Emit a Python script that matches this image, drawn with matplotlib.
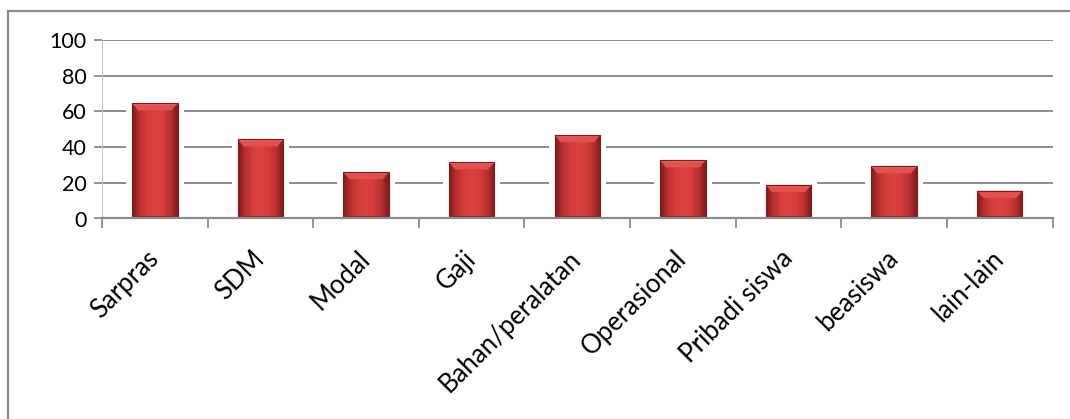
import numpy as np
import matplotlib
matplotlib.use("Agg")
import matplotlib.pyplot as plt
from matplotlib.patches import Rectangle, Polygon
from matplotlib.colors import LinearSegmentedColormap

categories = ["Sarpras", "SDM", "Modal", "Gaji", "Bahan/peralatan",
              "Operasional", "Pribadi siswa", "beasiswa", "lain-lain"]
values = [64.5, 44.3, 26.0, 31.5, 46.7, 32.5, 18.8, 29.2, 15.5]
y_ticks = [0, 20, 40, 60, 80, 100]

plt.rcParams["font.family"] = ["Lato", "DejaVu Sans"]

W, H = 1070, 419
fig = plt.figure(figsize=(W / 100, H / 100), dpi=100)
ax = fig.add_axes([102 / W, 1 - 218.5 / H, (1052.5 - 102) / W, (218.5 - 40) / H])

# outer chart frame (left and top edges visible)
fig.patches.append(Rectangle((8 / W, -0.1), 1.2, 1 - 11 / H + 0.1,
                             transform=fig.transFigure, fill=False,
                             edgecolor="#8a8a8a", lw=1.6, zorder=0))

grid_c = "#8c8c8c"
x = np.arange(len(categories))
ax.set_xlim(-0.5, len(categories) - 0.5)
ax.set_ylim(0, 100)
ax.set_yticks(y_ticks)
for t in y_ticks[1:]:
    ax.axhline(t, color=grid_c, lw=1.4, zorder=1)

bar_w = 0.43
bars = ax.bar(x, values, width=bar_w, color="#d23b3b", zorder=3)

# white glow behind each bar, interrupting the gridlines
px_x = 1.0 / ((1052.5 - 102) / len(categories))  # data units per pixel (x)
px_y = 100.0 / (218.5 - 40)                       # data units per pixel (y)
for b in bars:
    bx, bw, bh = b.get_x(), b.get_width(), b.get_height()
    ax.add_patch(Rectangle((bx - 6 * px_x, 0), bw + 12 * px_x, bh + 4 * px_y,
                           facecolor="white", edgecolor="none", zorder=2))

# horizontal shading across each bar face
cmap = LinearSegmentedColormap.from_list(
    "barshade", ["#7e1a1a", "#b83030", "#d63d3d", "#da4242", "#d63d3d",
                 "#b83030", "#7e1a1a"])
grad = np.linspace(0, 1, 256).reshape(1, -1)
for b in bars:
    bx, bw, bh = b.get_x(), b.get_width(), b.get_height()
    im = ax.imshow(grad, extent=(bx, bx + bw, 0, bh), aspect="auto",
                   cmap=cmap, zorder=4, interpolation="bicubic")
    im.set_clip_path(b)
    # bevelled top face
    dx, dy = 6 * px_x, 7 * px_y
    ax.add_patch(Polygon([(bx, bh), (bx + bw, bh), (bx + bw - dx, bh - dy),
                          (bx + dx, bh - dy)], closed=True,
                         facecolor="#e25050", edgecolor="none", zorder=5))
    ax.add_patch(Polygon([(bx, bh), (bx + bw, bh), (bx + bw - 0.6 * px_x, bh - 1.2 * px_y),
                          (bx + 0.6 * px_x, bh - 1.2 * px_y)], closed=True,
                         facecolor="#ec7272", edgecolor="none", zorder=6))
    # darker bottom rim
    ax.add_patch(Rectangle((bx, 0), bw, 2 * px_y, facecolor="#8a1f1f",
                           edgecolor="none", zorder=5))
    ax.add_patch(Rectangle((bx, 0), bw, bh, facecolor="none",
                           edgecolor="#7a1c1c", lw=0.8, zorder=6))

for s in ["top", "right"]:
    ax.spines[s].set_visible(False)
ax.spines["left"].set_color("#c0c0c0")
ax.spines["left"].set_linewidth(0.7)
ax.spines["bottom"].set_color(grid_c)
ax.spines["bottom"].set_linewidth(1.6)
ax.spines["bottom"].set_zorder(7)

ax.set_xticks(x)
ax.set_xticklabels(categories, rotation=45, ha="right", va="center",
                   rotation_mode="anchor", fontsize=18.5, color="black")
ax.set_xticks(np.arange(-0.5, len(categories)), minor=True)
ax.tick_params(axis="x", which="major", length=0, pad=26)
ax.tick_params(axis="x", which="minor", length=7, width=1.3, color=grid_c,
               direction="out")
ax.tick_params(axis="y", length=6, width=1.3, color=grid_c, labelsize=15.5,
               pad=5, labelcolor="black")

fig.savefig("out.png", dpi=100, facecolor="white")
